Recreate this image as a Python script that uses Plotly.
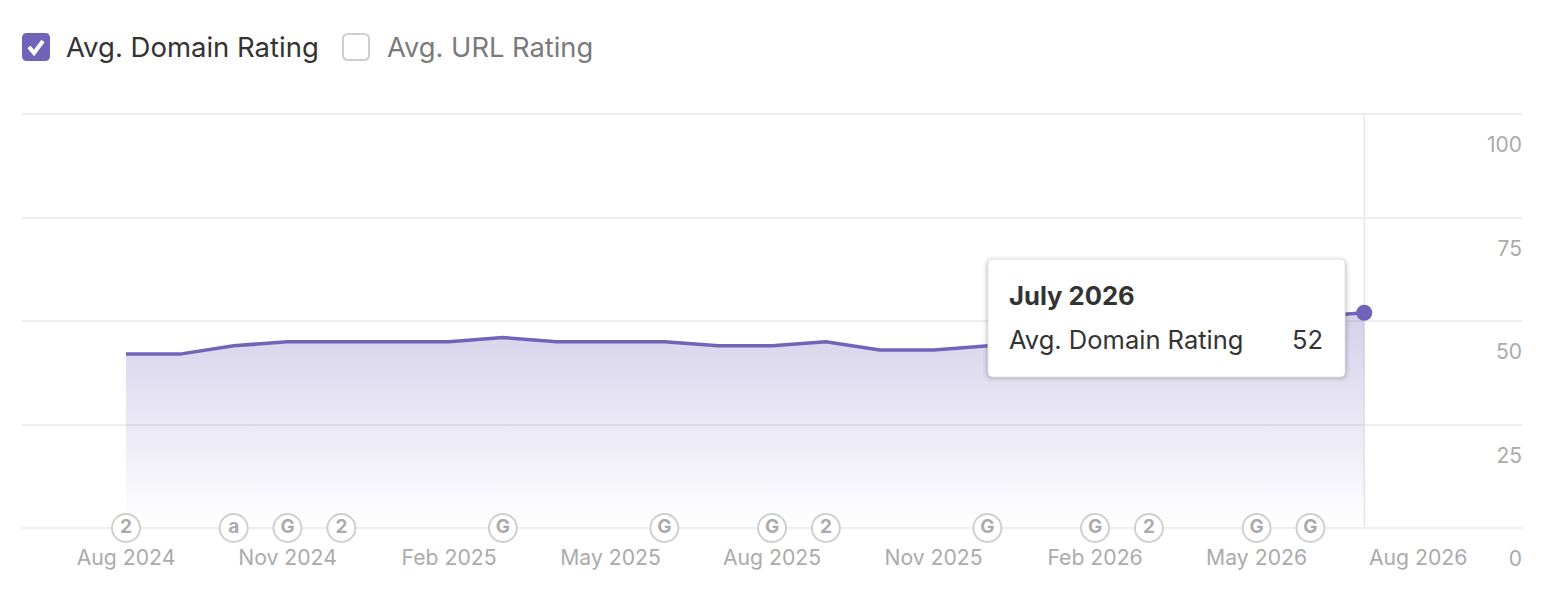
import plotly.graph_objects as go

W, H = 1554, 590
L, R, T, B = 22, 32, 112, 6
FONT = "Inter"
PURPLE = "#7163BA"

months = ["Aug 2024", "Sep 2024", "Oct 2024", "Nov 2024", "Dec 2024", "Jan 2025", "Feb 2025", "Mar 2025",
          "Apr 2025", "May 2025", "Jun 2025", "Jul 2025", "Aug 2025", "Sep 2025", "Oct 2025", "Nov 2025",
          "Dec 2025", "Jan 2026", "Feb 2026", "Mar 2026", "Apr 2026", "May 2026", "Jun 2026", "Jul 2026",
          "Aug 2026"]
domain_rating = [42, 42, 44, 45, 45, 45, 45, 46, 45, 45, 45, 44, 44, 45, 43, 43, 44, 45, 45, 46, 47, 49, 51, 52]
x_ticks = months[0::3]
y_ticks = [0, 25, 50, 75, 100]
event_months = ["Aug 2024", "Oct 2024", "Nov 2024", "Dec 2024", "Mar 2025", "Jun 2025", "Aug 2025", "Sep 2025",
                "Dec 2025", "Feb 2026", "Mar 2026", "May 2026", "Jun 2026"]
event_labels = ["2", "a", "G", "2", "G", "G", "G", "2", "G", "G", "2", "G", "G"]
selected_month = "Jul 2026"

def px(x):
    return (x - L) / (W - L - R)

def py(y):
    return 1 - (y - T) / (H - T - B)

def rrect(x0, y0, x1, y1, r):
    a, b, c, d = px(x0), py(y0), px(x1), py(y1)
    rx = r / (W - L - R)
    ry = r / (H - T - B)
    return (f"M {a+rx},{b} L {c-rx},{b} Q {c},{b} {c},{b-ry} L {c},{d+ry} Q {c},{d} {c-rx},{d} "
            f"L {a+rx},{d} Q {a},{d} {a},{d+ry} L {a},{b-ry} Q {a},{b} {a+rx},{b} Z")

fig = go.Figure()
fig.add_trace(go.Scatter(
    x=months[:len(domain_rating)], y=domain_rating, mode="lines", fill="tozeroy",
    line=dict(color=PURPLE, width=3.5), hoverinfo="skip", showlegend=False,
    fillgradient=dict(type="vertical", colorscale=[[0, "rgba(113,99,186,0)"], [1, "rgba(113,99,186,0.30)"]]),
))
fig.add_trace(go.Scatter(
    x=[selected_month], y=[domain_rating[months.index(selected_month)]], mode="markers",
    marker=dict(size=16, color=PURPLE), hoverinfo="skip", showlegend=False, cliponaxis=False,
))
fig.add_trace(go.Scatter(
    x=event_months, y=[0] * len(event_months), text=event_labels, mode="markers+text",
    textposition="middle center", textfont=dict(family=FONT, size=19, color="#ababab", weight=700),
    marker=dict(size=28, color="white", line=dict(color="#cfcfcf", width=2)),
    hoverinfo="skip", showlegend=False, cliponaxis=False,
))

shapes = [dict(type="line", xref="x", yref="y", x0=selected_month, x1=selected_month, y0=0, y1=100,
               line=dict(color="#e8e8e8", width=1.5), layer="below")]
# tooltip shadow and box
for grow, alpha in [(5, 0.03), (3, 0.05), (1.5, 0.08)]:
    shapes.append(dict(type="path", xref="paper", yref="paper",
                       path=rrect(988 - grow, 259 - grow + 2, 1345 + grow, 377 + grow, 6 + grow),
                       fillcolor=f"rgba(0,0,0,{alpha})", line=dict(width=0), layer="above"))
shapes.append(dict(type="path", xref="paper", yref="paper", path=rrect(988, 259, 1345, 377, 5),
                   fillcolor="white", line=dict(color="#e4e4e4", width=1), layer="above"))
# checkboxes
shapes.append(dict(type="path", xref="paper", yref="paper", path=rrect(22, 33, 50, 61, 5),
                   fillcolor=PURPLE, line=dict(width=0), layer="above"))
shapes.append(dict(type="path", xref="paper", yref="paper",
                   path=f"M {px(29)},{py(47)} L {px(34)},{py(53)} L {px(43)},{py(41)}",
                   line=dict(color="white", width=4), layer="above"))
shapes.append(dict(type="path", xref="paper", yref="paper", path=rrect(343, 34, 369, 60, 5),
                   fillcolor="white", line=dict(color="#cfcfcf", width=2), layer="above"))

def note(text, x, y, size, color, anchor="left", bold=False):
    return dict(text=f"<b>{text}</b>" if bold else text, xref="paper", yref="paper", x=px(x), y=py(y),
                xanchor=anchor, yanchor="middle", showarrow=False,
                font=dict(family=FONT, size=size, color=color))

annotations = [
    note("Avg. Domain Rating", 64, 47, 27.5, "#333333"),
    note("Avg. URL Rating", 385, 47.5, 27.3, "#7a7a7a"),
    note("July 2026", 1007, 295, 25.6, "#333333", bold=True),
    note("Avg. Domain Rating", 1007, 339.5, 25.5, "#333333"),
    note(str(domain_rating[months.index(selected_month)]), 1325, 339.5, 25.5, "#333333", anchor="right"),
]

px_per_unit = 4.14
plot_h = H - T - B
baseline_frac = (H - B - 528) / plot_h

fig.update_layout(
    width=W, height=H, margin=dict(l=L, r=R, t=T, b=B), paper_bgcolor="white", plot_bgcolor="white",
    font=dict(family=FONT), shapes=shapes, annotations=annotations, showlegend=False,
    xaxis=dict(type="category", categoryorder="array", categoryarray=months, range=[-1.932, 25.93],
               tickmode="array", tickvals=x_ticks, ticktext=x_ticks, showgrid=False, zeroline=False,
               showline=False, ticks="", tickfont=dict(family=FONT, size=21.2, color="#ababab"),
               anchor="free", position=baseline_frac, ticklabelstandoff=15),
    yaxis=dict(range=[-(H - B - 528) / px_per_unit, 100 + (114 - T) / px_per_unit], tickmode="array",
               tickvals=y_ticks, side="right", ticklabelposition="inside", ticklabelshift=31,
               ticklabelstandoff=-3, gridcolor="#eeeeee", gridwidth=2, zeroline=False, showline=False,
               ticks="", tickfont=dict(family=FONT, size=21, color="#ababab")),
)
fig.write_html("out.html", config=dict(displayModeBar=False),
               post_script="document.body.style.margin='0';document.body.style.overflow='hidden';")
